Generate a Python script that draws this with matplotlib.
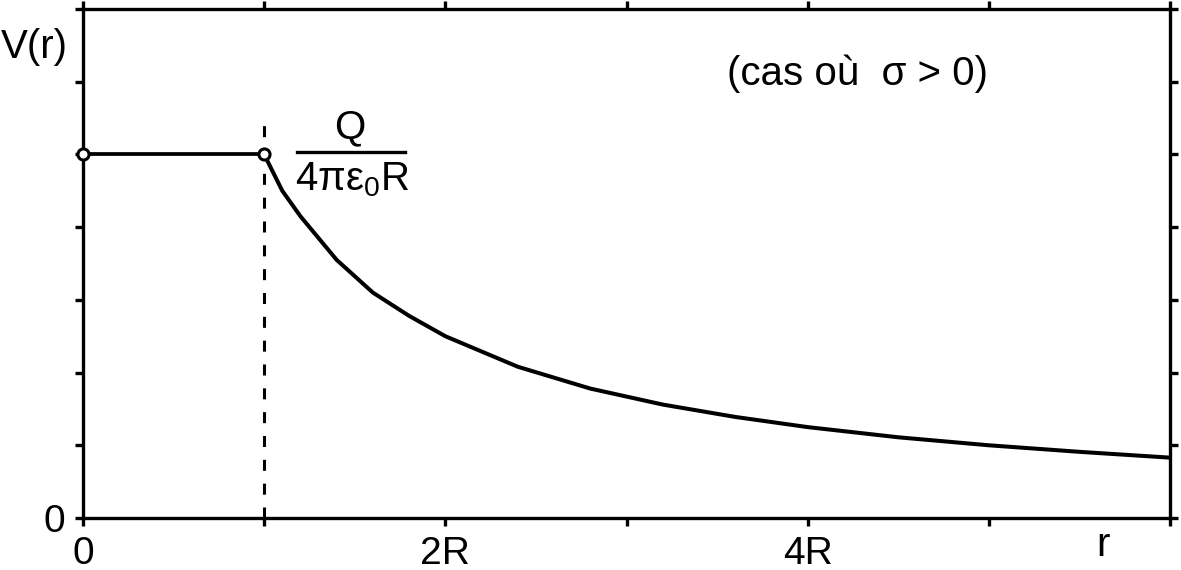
import matplotlib
matplotlib.use("Agg")
import matplotlib.pyplot as plt
from matplotlib.lines import Line2D

plt.rcParams['font.family'] = ['Liberation Sans', 'DejaVu Sans']
plt.rcParams['mathtext.fontset'] = 'custom'
plt.rcParams['mathtext.rm'] = 'Liberation Sans'
plt.rcParams['mathtext.it'] = 'Liberation Sans'

# data (r in units of R, V in arbitrary units, V0 = Q/(4 pi eps0 R) = 5)
r_inside = [0.0, 1.0]
v_inside = [5.0, 5.0]
r_outside = [1.0, 1.1, 1.2, 1.4, 1.6, 1.8, 2.0, 2.4, 2.8, 3.2, 3.6, 4.0, 4.5, 5.0, 5.5, 6.0]
v_outside = [5.0, 4.5, 4.15, 3.55, 3.1, 2.78, 2.5, 2.08, 1.78, 1.56, 1.39, 1.25, 1.11, 1.0, 0.91, 0.83]
r_marker = [0.0, 1.0]
v_marker = [5.0, 5.0]
x_ticks = [0, 1, 2, 3, 4, 5, 6]
x_ticklabels = ["0", "", "2R", "", "4R", "", ""]
y_ticks = [0, 1, 2, 3, 4, 5, 6, 7]
y_ticklabels = ["0", "", "", "", "", "", "", ""]
r_boundary = 1.0
v_boundary_top = 5.47

fig = plt.figure(figsize=(11.81, 5.70), dpi=100)
ax = fig.add_axes([83/1181, 52/570, 1087/1181, 509/570])

ax.plot(r_inside, v_inside, color='black', lw=2.7, solid_capstyle='butt')
ax.plot(r_outside, v_outside, color='black', lw=2.9)
ax.plot([r_boundary, r_boundary], [0, v_boundary_top], color='black', lw=2.2,
        linestyle=(0, (3.6, 4.2)))
ax.plot(r_marker, v_marker, linestyle='none', marker='o', ms=8, mfc='white',
        mec='black', mew=2.2, clip_on=False, zorder=5)

ax.set_xlim(0, 6)
ax.set_ylim(0, 7)
ax.set_xticks(x_ticks)
ax.set_xticklabels(x_ticklabels)
ax.set_yticks(y_ticks)
ax.set_yticklabels(y_ticklabels)
ax.tick_params(direction='out', length=6, width=2.4, labelsize=28, pad=7,
               top=True, right=True, bottom=True, left=True)
for s in ax.spines.values():
    s.set_linewidth(2.4)

fs = 29
fig.text(34/1181, 1 - 47/570, "V(r)", fontsize=fs, ha='center', va='center')
fig.text(1103/1181, 1 - 545/570, "r", fontsize=fs, ha='center', va='center')
fig.text(727/1181, 1 - 74/570, "(cas où  σ > 0)", fontsize=fs, ha='left', va='center')
fig.text(350/1181, 1 - 127/570, "Q", fontsize=fs, ha='center', va='center')
fig.text(352/1181, 1 - 180/570, r"4πε$_0$R", fontsize=fs, ha='center', va='center')
fig.add_artist(Line2D([297/1181, 405/1181], [1 - 152/570, 1 - 152/570],
                      color='black', lw=2.4, transform=fig.transFigure))

fig.savefig("out.png", dpi=100)
